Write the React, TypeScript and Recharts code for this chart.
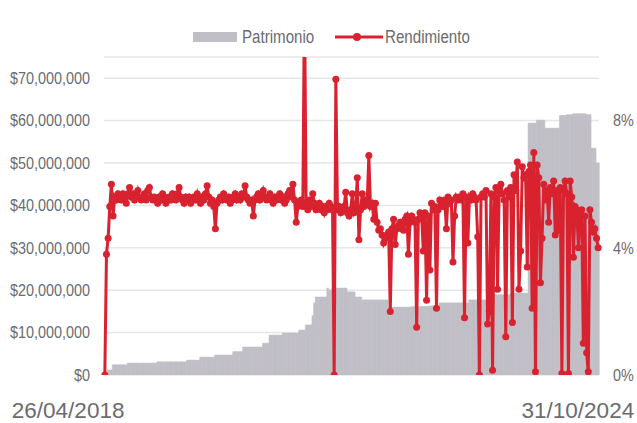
import { ComposedChart, Bar, Line, XAxis, YAxis, CartesianGrid, Legend } from 'recharts';

// Patrimonio en millones de pesos
const patrimonio = [
  0.4, 0.4, 1.2, 1.2, 1.2, 2.4, 2.4, 2.4, 2.4, 2.4,
  2.4, 2.4, 2.4, 2.4, 2.8, 2.8, 2.8, 2.8, 2.8, 2.8,
  2.8, 2.8, 2.8, 2.8, 2.8, 2.8, 2.8, 2.8, 2.8, 2.8,
  2.8, 2.8, 3.1, 3.1, 3.1, 3.1, 3.1, 3.1, 3.1, 3.1,
  3.1, 3.1, 3.1, 3.1, 3.1, 3.1, 3.1, 3.1, 3.1, 3.1,
  3.5, 3.5, 3.5, 3.5, 3.5, 3.5, 3.5, 3.5, 4.2, 4.2,
  4.2, 4.2, 4.2, 4.2, 4.2, 4.2, 4.2, 4.7, 4.7, 4.7,
  4.7, 4.7, 4.7, 4.7, 4.7, 4.7, 4.7, 4.7, 5.5, 5.5,
  5.5, 5.5, 5.5, 5.5, 6.6, 6.6, 6.6, 6.6, 6.6, 6.6,
  6.6, 6.6, 6.6, 6.6, 6.6, 6.6, 7.5, 7.5, 7.5, 7.5,
  9.4, 9.4, 9.4, 9.4, 9.4, 9.4, 9.4, 9.4, 9.9, 9.9,
  9.9, 9.9, 9.9, 9.9, 9.9, 9.9, 9.9, 9.9, 10.6, 10.6,
  10.6, 10.6, 11.8, 11.8, 11.8, 11.8, 14.0, 17.0, 18.4, 18.4,
  18.4, 18.4, 18.4, 18.4, 18.4, 20.5, 20.0, 20.0, 20.5, 20.5,
  20.5, 20.5, 20.5, 20.5, 20.5, 20.5, 20.5, 19.6, 19.6, 19.6,
  19.6, 19.6, 18.4, 18.4, 18.4, 18.4, 17.7, 17.7, 17.7, 17.7,
  17.7, 17.7, 17.7, 17.7, 17.7, 17.7, 17.7, 17.7, 17.7, 17.7,
  17.7, 17.7, 16.0, 16.0, 16.0, 16.0, 16.0, 16.0, 16.0, 16.0,
  16.0, 16.0, 16.0, 16.0, 16.0, 16.0, 16.1, 16.1, 16.1, 16.1,
  16.1, 16.1, 16.2, 16.2, 16.2, 16.2, 16.2, 16.3, 16.3, 16.3,
  16.3, 16.3, 16.3, 17.0, 17.0, 17.0, 17.0, 17.0, 17.0, 17.0,
  17.0, 17.0, 17.0, 17.0, 17.0, 17.0, 17.0, 17.0, 17.0, 17.0,
  17.0, 17.7, 17.7, 17.7, 17.7, 17.7, 17.7, 17.7, 17.7, 17.7,
  17.7, 17.7, 18.9, 18.9, 18.9, 18.9, 18.9, 18.9, 18.9, 18.9,
  18.9, 18.9, 18.9, 18.9, 18.9, 18.9, 19.3, 19.3, 19.3, 19.3,
  19.3, 19.3, 19.3, 19.3, 19.3, 19.3, 19.3, 59.4, 59.4, 59.4,
  59.4, 59.4, 60.1, 60.1, 60.1, 60.1, 60.1, 58.2, 58.2, 58.2,
  58.2, 58.2, 58.2, 58.2, 58.2, 58.2, 61.2, 61.2, 61.2, 61.2,
  61.4, 61.4, 61.4, 61.4, 61.6, 61.6, 61.6, 61.6, 61.6, 61.6,
  61.6, 61.6, 61.4, 61.4, 61.4, 53.5, 53.5, 53.5, 50.0, 50.0,
];

// Rendimiento en %
const rendimiento = [
  0, 3.8, 4.3, 5.3, 6.0, 5.0, 5.6, 5.5, 5.7, 5.6,
  5.5, 5.7, 5.6, 5.4, 5.7, 5.9, 5.6, 5.7, 5.5, 5.6,
  5.8, 5.6, 5.5, 5.6, 5.7, 5.5, 5.8, 5.9, 5.6, 5.5,
  5.6, 5.5, 5.4, 5.6, 5.5, 5.7, 5.6, 5.4, 5.5, 5.6,
  5.5, 5.7, 5.6, 5.5, 5.7, 5.9, 5.6, 5.5, 5.4, 5.6,
  5.5, 5.6, 5.4, 5.5, 5.6, 5.5, 5.7, 5.5, 5.4, 5.6,
  5.5, 5.7, 5.95, 5.6, 5.4, 5.5, 5.3, 4.6, 5.4, 5.5,
  5.6, 5.5, 5.7, 5.6, 5.5, 5.6, 5.4, 5.5, 5.6, 5.7,
  5.5, 5.6, 5.5, 5.7, 5.6, 5.95, 5.6, 5.5, 5.4, 5.5,
  5.0, 5.5, 5.6, 5.7, 5.5, 5.6, 5.8, 5.6, 5.5, 5.6,
  5.7, 5.5, 5.4, 5.6, 5.5, 5.6, 5.7, 5.5, 5.6, 5.4,
  5.5, 5.7, 5.8, 5.6, 6.0, 5.5, 4.8, 5.3, 5.4, 5.5,
  5.3, 12.0, 5.4, 5.2, 5.5, 5.3, 5.7, 5.4, 5.2, 5.3,
  5.4, 5.2, 5.3, 5.1, 5.3, 5.2, 5.4, 5.3, 5.2, 0,
  9.3, 5.2, 5.3, 5.1, 5.2, 5.3, 5.75, 5.1, 5.0, 5.2,
  5.7, 5.1, 5.2, 6.2, 4.25, 5.2, 5.7, 5.3, 5.5, 5.4,
  6.9, 5.3, 5.4, 4.9, 5.4, 4.8, 4.55, 4.6, 4.4, 4.15,
  4.3, 4.4, 4.5, 2.0, 4.6, 4.9, 4.1, 4.6, 4.7, 4.8,
  4.6, 4.55, 4.9, 5.0, 3.8, 4.8, 5.0, 4.9, 4.8, 1.5,
  4.9, 5.1, 5.0, 3.9, 5.1, 2.35, 5.0, 3.3, 5.4, 5.2,
  5.3, 2.1, 5.2, 5.5, 5.4, 5.3, 5.5, 4.6, 5.6, 5.4,
  5.5, 3.55, 5.0, 5.6, 5.5, 5.6, 5.5, 5.7, 1.8, 5.6,
  4.15, 5.6, 5.5, 5.7, 5.6, 5.5, 4.35, 0, 5.6, 5.7,
  5.6, 5.8, 1.6, 2.0, 5.7, 0.15, 5.6, 5.9, 2.7, 5.8,
  6.0, 5.7, 5.5, 1.2, 5.8, 5.6, 5.9, 1.65, 6.3, 5.8,
  6.7, 2.7, 3.9, 6.55, 6.2, 6.3, 3.4, 6.4, 6.6, 2.1,
  7.0, 0.1, 6.6, 6.2, 2.9, 4.3, 6.0, 5.5, 5.8, 4.8,
  5.9, 5.7, 6.1, 4.4, 5.8, 4.55, 5.9, 0.05, 5.8, 6.1,
  5.7, 0.05, 6.1, 5.6, 3.7, 5.3, 5.2, 4.0, 5.1, 5.2,
  1.0, 5.0, 0.7, 0.1, 5.2, 4.8, 4.5, 4.6, 4.3, 4.0,
];

const fechasEje = ['26/04/2018', '31/10/2024'];
const ticksPatrimonio = [0, 10, 20, 30, 40, 50, 60, 70];
const ticksRendimiento = [0, 4, 8];

const data = patrimonio.map((p, i) => ({ idx: i, patrimonio: p, rendimiento: rendimiento[i] }));

const GRIS = '#c1bfc6';
const ROJO = '#d9222f';
const TEXTO = '#6b6b70';
const FUENTE = "'Liberation Sans', sans-serif";
// la fuente original es condensada: se estrecha la Liberation Sans
const ANGOSTO_EJE = 0.9;
const ANGOSTO_LEYENDA = 0.84;

function FechaTick({ x, y, payload }: { x: number; y: number; payload: { value: number } }) {
  const primero = payload.value === 0;
  return (
    <text
      x={primero ? x - 93 : x + 36}
      y={y}
      dy={43}
      textAnchor={primero ? 'start' : 'end'}
      fill={TEXTO}
      fontSize={22.5}
      fontFamily={FUENTE}
    >
      {primero ? fechasEje[0] : fechasEje[1]}
    </text>
  );
}

function EjeTick({ x, y, payload, anchor, fmt }: {
  x: number; y: number; payload: { value: number }; anchor: 'start' | 'end'; fmt: (v: number) => string;
}) {
  return (
    <g transform={`translate(${x},${y}) scale(${ANGOSTO_EJE},1)`}>
      <text x={0} y={0} dy="0.36em" textAnchor={anchor} fill={TEXTO} fontSize={16} fontFamily={FUENTE}>
        {fmt(payload.value)}
      </text>
    </g>
  );
}

const fmtPesos = (v: number) => `$${(v * 1000000).toLocaleString('en-US')}`;
const fmtPct = (v: number) => `${v}%`;

function Leyenda() {
  const texto = { position: 'absolute' as const, top: 0, lineHeight: '22px', transform: `scaleX(${ANGOSTO_LEYENDA})`, transformOrigin: 'left center', whiteSpace: 'nowrap' as const };
  return (
    <div style={{ position: 'relative', width: 637, height: 22, fontFamily: FUENTE, fontSize: 18, color: TEXTO }}>
      <span style={{ position: 'absolute', left: 193, top: 6, width: 44, height: 10, background: GRIS }} />
      <span style={{ ...texto, left: 242 }}>Patrimonio</span>
      <svg style={{ position: 'absolute', left: 335, top: 0 }} width={48} height={22}>
        <line x1={0} y1={11} x2={48} y2={11} stroke={ROJO} strokeWidth={3} />
        <circle cx={22} cy={11} r={4} fill={ROJO} />
      </svg>
      <span style={{ ...texto, left: 385 }}>Rendimiento</span>
    </div>
  );
}

type TickProps = { x: number; y: number; payload: { value: number } };

export default function App() {
  return (
    <div style={{ position: 'absolute', left: 0, top: 0, background: '#fff' }}>
      <ComposedChart
        width={637}
        height={423}
        data={data}
        margin={{ top: 35, right: 0, bottom: 0, left: 0 }}
        barCategoryGap={0}
        barGap={0}
      >
        <CartesianGrid yAxisId="left" vertical={false} stroke="#e6e6e6" strokeWidth={1.5} />
        <XAxis
          dataKey="idx"
          ticks={[0, patrimonio.length - 1]}
          interval={0}
          tick={FechaTick as never}
          axisLine={false}
          tickLine={false}
          tickSize={0}
          tickMargin={0}
          height={48}
        />
        <YAxis
          yAxisId="left"
          domain={[0, 75]}
          ticks={ticksPatrimonio}
          allowDataOverflow
          axisLine={false}
          tickLine={false}
          tickSize={0}
          tickMargin={14}
          width={104}
          tick={((p: TickProps) => <EjeTick {...p} anchor="end" fmt={fmtPesos} />) as never}
        />
        <YAxis
          yAxisId="right"
          orientation="right"
          domain={[0, 10]}
          ticks={ticksRendimiento}
          allowDataOverflow
          axisLine={false}
          tickLine={false}
          tickSize={0}
          tickMargin={14}
          width={38}
          tick={((p: TickProps) => <EjeTick {...p} anchor="start" fmt={fmtPct} />) as never}
        />
        <Legend verticalAlign="top" content={<Leyenda />} wrapperStyle={{ top: 26, left: 0, width: 637 }} />
        <Bar
          yAxisId="left"
          dataKey="patrimonio"
          name="Patrimonio"
          fill={GRIS}
          stroke={GRIS}
          strokeWidth={0.5}
          isAnimationActive={false}
        />
        <Line
          yAxisId="right"
          dataKey="rendimiento"
          name="Rendimiento"
          type="linear"
          stroke={ROJO}
          strokeWidth={3}
          dot={{ r: 3.5, fill: ROJO, stroke: ROJO, strokeWidth: 0 }}
          isAnimationActive={false}
        />
      </ComposedChart>
    </div>
  );
}
